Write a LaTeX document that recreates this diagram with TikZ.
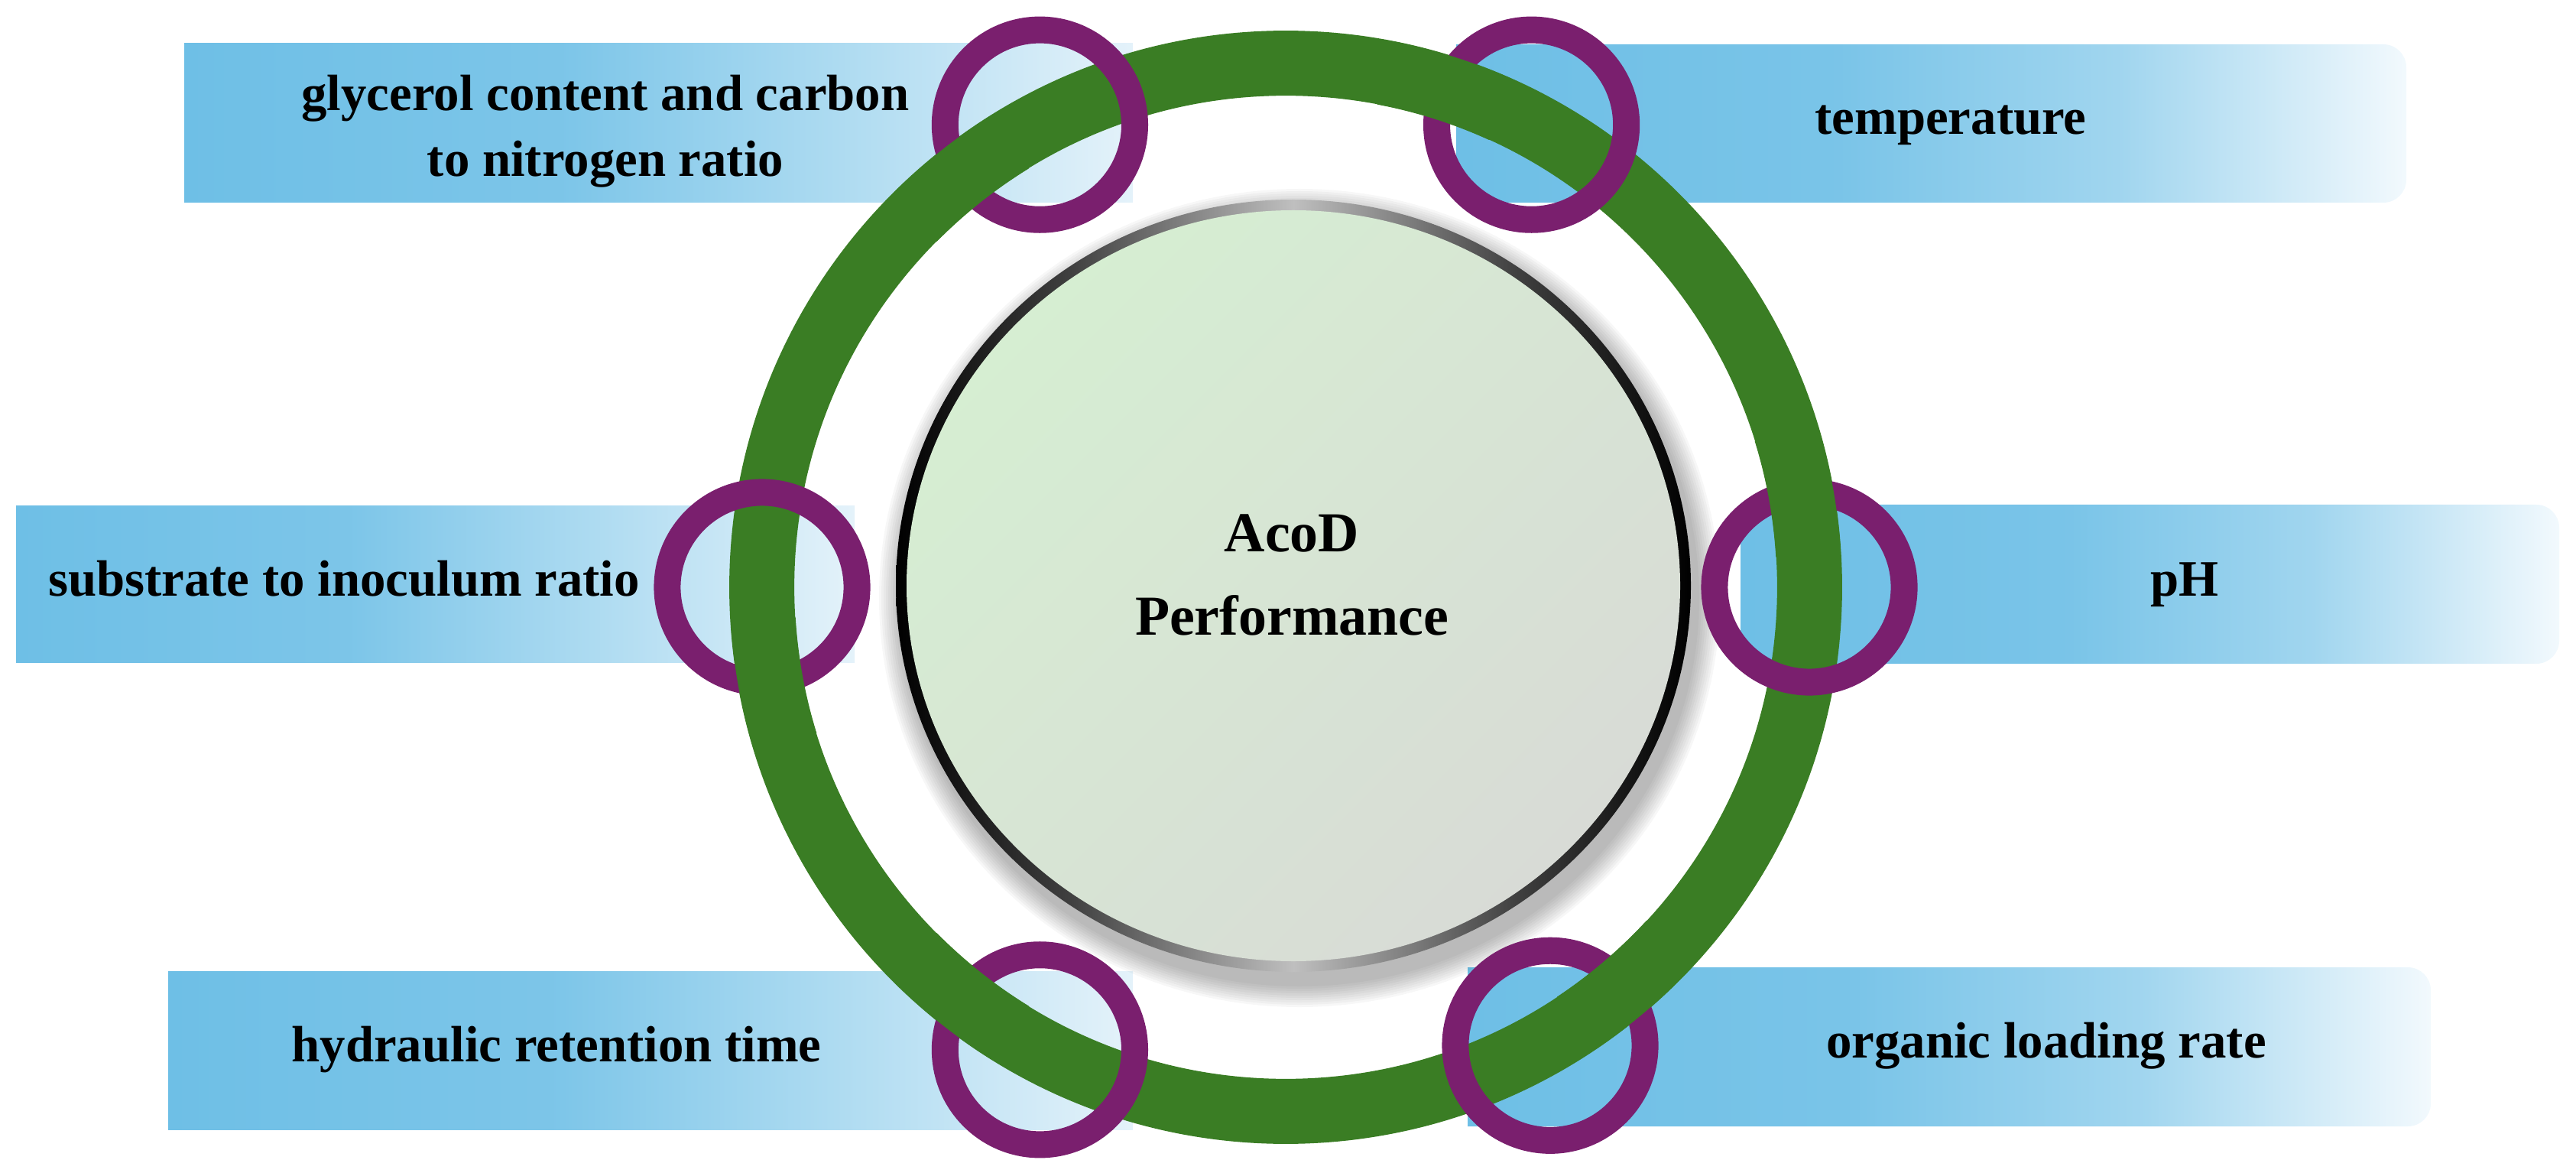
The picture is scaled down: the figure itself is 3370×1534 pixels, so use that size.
\documentclass[tikz,border=0pt]{standalone}
\usepackage{fontspec}
\setmainfont{Liberation Serif}
\usetikzlibrary{calc}
\definecolor{ringgreen}{RGB}{58,125,36}
\definecolor{ringpurple}{RGB}{122,31,110}
\definecolor{boxblue}{RGB}{110,191,230}
\definecolor{boxpale}{RGB}{228,242,250}
\definecolor{boxwhite}{RGB}{242,249,253}
\definecolor{discgreen}{RGB}{214,238,210}
\definecolor{discgray}{RGB}{216,219,214}
\pgfdeclarehorizontalshading{rimshade}{100bp}{color(0bp)=(black); color(25bp)=(black); color(36bp)=(black!75); color(50bp)=(black!25); color(64bp)=(black!75); color(75bp)=(black); color(100bp)=(black)}
\pgfdeclarehorizontalshading{rboxshade}{100bp}{color(0bp)=(boxblue); color(25bp)=(boxblue); color(45bp)=(boxblue!92!white); color(60bp)=(boxblue!65!white); color(75bp)=(boxwhite); color(100bp)=(boxwhite)}
\pgfdeclarehorizontalshading{lboxshade}{100bp}{color(0bp)=(boxblue); color(25bp)=(boxblue); color(45bp)=(boxblue!90!white); color(60bp)=(boxblue!55!white); color(75bp)=(boxpale); color(100bp)=(boxpale)}
\tikzset{
  greenring/.style={draw=ringgreen, line width=0.85cm},
  pring/.style={circle, draw=ringpurple, line width=0.35cm, minimum size=2.48cm, inner sep=0pt},
  lbox/.style={shading=lboxshade},
  rbox/.style={shading=rboxshade},
  lbl/.style={font=\fontsize{19}{24.5}\selectfont\bfseries, text=black, inner sep=0pt, align=center},
  ctr/.style={font=\fontsize{21}{31}\selectfont\bfseries, text=black, inner sep=0pt, align=center}
}
\begin{document}
\begin{tikzpicture}[x=0.01cm,y=-0.01cm]
\useasboundingbox (0,0) rectangle (3370,1534);
\coordinate (G) at (1682,768);
\coordinate (D) at (1692,766);

% ---- label boxes ----
\shade[lbox] (241,57) rectangle (1482,265);
\shade[lbox] (21,662) rectangle (1118,866);
\shade[lbox] (220,1270) rectangle (1482,1477);
\shade[rbox] (1905,58) -- (3118,58) arc[start angle=-90,end angle=0,radius=30] -- (3148,235) arc[start angle=0,end angle=90,radius=30] -- (1905,265) -- cycle;
\shade[rbox] (2277,660) -- (3318,660) arc[start angle=-90,end angle=0,radius=30] -- (3348,838) arc[start angle=0,end angle=90,radius=30] -- (2277,868) -- cycle;
\shade[rbox] (1920,1265) -- (3150,1265) arc[start angle=-90,end angle=0,radius=30] -- (3180,1443) arc[start angle=0,end angle=90,radius=30] -- (1920,1473) -- cycle;

% ---- central disc with shadow ----
\foreach \i in {1,...,10}
  \fill[black, opacity=0.03] ($(D)+(8,16)$) ellipse[x radius={520+3*\i}, y radius={505+3*\i}];
\shade[shading=rimshade] (D) ellipse[x radius=520, y radius=505];
\shade[top color=discgreen, bottom color=discgray, shading angle=45] (D) ellipse[x radius=506, y radius=491];

% ---- green ring ----
\node[circle, greenring, minimum size=13.7cm, inner sep=0pt] (ring) at (G) {};

% ---- purple rings ----
\node[pring] (pTL) at ($(G)+({685*cos(118)},{-685*sin(118)})$) {};
\node[pring] (pTR) at ($(G)+({685*cos(62)},{-685*sin(62)})$) {};
\node[pring] (pML) at ($(G)+({685*cos(180)},{-685*sin(180)})$) {};
\node[pring] (pMR) at ($(G)+({685*cos(0)},{-685*sin(0)})$) {};
\node[pring] (pBL) at ($(G)+({685*cos(242)},{-685*sin(242)})$) {};
\node[pring] (pBR) at ($(G)+({692*cos(300)},{-692*sin(300)})$) {};

% ---- green over purple at one crossing of each ring ----
\foreach \a in {128.4, 72.4, 190.4, 10.4, 231.6, 310.4} {
  \begin{scope}
    \clip ($(G)+({685*cos(\a)},{-685*sin(\a)})$) circle[radius=90];
    \draw[greenring] (G) circle[radius=685];
  \end{scope}
}

% ---- texts ----
\node[lbl] (tTL) at (792,172) {glycerol content and carbon\\to nitrogen ratio};
\node[lbl, anchor=base] (tTR) at (2552,176) {temperature};
\node[lbl, anchor=base] (tML) at (450,779) {substrate to inoculum ratio};
\node[lbl, anchor=base] (tMR) at (2858,779) {pH};
\node[lbl, anchor=base] (tBL) at (728,1388) {hydraulic retention time};
\node[lbl, anchor=base] (tBR) at (2677,1383) {organic loading rate};
\node[ctr] (center) at (1690,752) {AcoD\\Performance};
\end{tikzpicture}
\end{document}
